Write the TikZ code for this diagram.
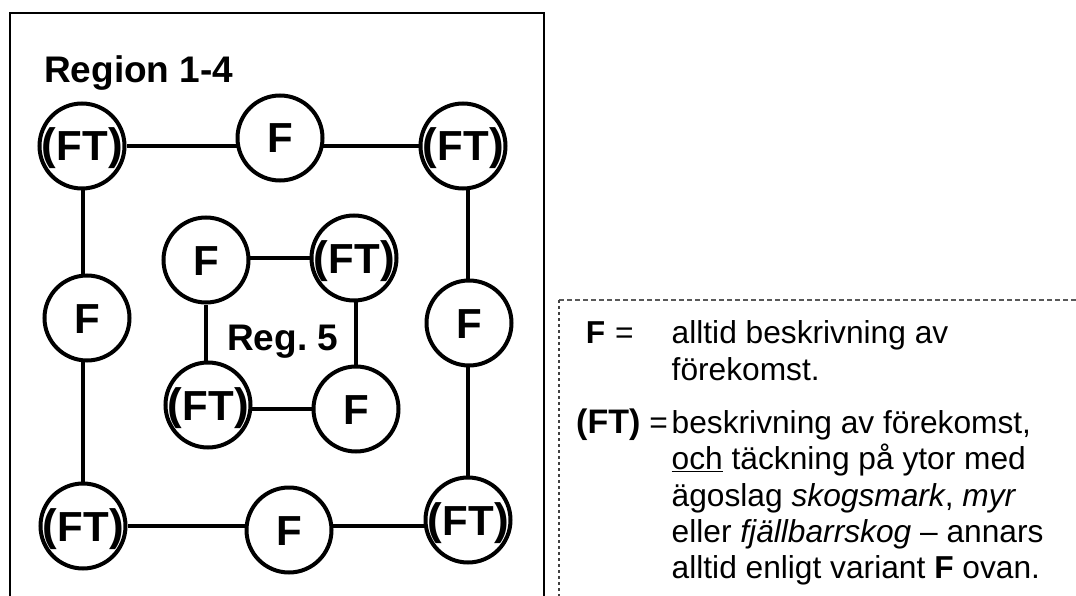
\documentclass[tikz,border=0pt]{standalone}
\usepackage{fontspec}
\setmainfont{Liberation Sans}
\usetikzlibrary{backgrounds}
\frenchspacing
\tikzset{
  circ/.style={circle, draw, line width=4pt, minimum size=85pt, inner sep=0pt,
    fill=white, font=\fontsize{42}{42}\selectfont\bfseries,
    text height=30pt, text depth=0pt},
  conn/.style={line width=4pt},
  frame/.style={line width=2pt},
  legdash/.style={line width=1.2pt, black!65, dash pattern=on 5pt off 3pt},
  legdot/.style={line width=1.5pt, black!75, dash pattern=on 3pt off 3pt},
  lg/.style={font=\fontsize{31.7}{36}\selectfont, inner sep=0pt, anchor=base west},
  title/.style={font=\fontsize{37}{37}\selectfont\bfseries, inner sep=0pt, anchor=base west}
}
\newcommand{\bigpar}[1]{\raisebox{1pt}{\fontsize{44}{44}\selectfont#1}}
\newcommand{\FTlab}{\makebox[60pt]{\bigpar{(}\kern0.5pt FT\kern0.5pt\bigpar{)}}}
\begin{document}
\begin{tikzpicture}[x=1pt,y=-1pt]
\useasboundingbox (0,0) rectangle (1076,596);
% outer frame
\draw[frame] (10,600) -- (10,13) -- (544,13) -- (544,600);
% legend frame
\coordinate (lgTL) at (559,300);
\coordinate (lgTR) at (1078,300);
\coordinate (lgBL) at (559,598);
\draw[legdash] (lgTL) -- (lgTR);
\draw[legdot] (lgTL) -- (lgBL);

\node[title] (reg) at (44,83) {Region 1-4};
\node[title] (reg5) at (227,350) {Reg. 5};

% outer ring
\node[circ] (tl) at (82,146) {\FTlab};
\node[circ] (tf) at (280,138) {F};
\node[circ] (tr) at (463,146) {\FTlab};
\node[circ] (lf) at (87,318) {F};
\node[circ] (rf) at (469,323) {F};
\node[circ] (bl) at (83,526) {\FTlab};
\node[circ] (bf) at (289,530) {F};
\node[circ] (br) at (468,520) {\FTlab};
% inner ring
\node[circ] (itl) at (206,260) {F};
\node[circ] (itr) at (354,258) {\FTlab};
\node[circ] (ibl) at (208,405) {\FTlab};
\node[circ] (ibr) at (356,409) {F};

\begin{pgfonlayer}{background}
\draw[conn] (tl) -- (tl -| tr);
\draw[conn] (bl) -- (bl |- tl);
\draw[conn] (br) -- (br |- tr);
\draw[conn] (bl) -- (bl -| br);
\draw[conn] (itr) -- (itr -| itl);
\draw[conn] (itl) -- (itl |- ibl);
\draw[conn] (ibr) -- (ibr |- itr);
\draw[conn] (ibr) -- (ibr -| ibl);
\end{pgfonlayer}

% legend text
\node[lg] (kF) at (585.6,343) {\textbf{F}\hspace{10pt}=};
\node[lg] (kFT) at (576,433) {{\fontsize{34}{36}\selectfont\bfseries (FT)}\hspace{9pt}=};
\node[lg] (t1) at (671.5,343) {alltid beskrivning av};
\node[lg] (t2) at (671.5,380) {förekomst.};
\node[lg] (t3) at (671.5,433) {beskrivning av förekomst,};
\node[lg] (t4) at (671.5,469.5) {\underline{och} täckning på ytor med};
\node[lg] (t5) at (671.5,506) {ägoslag \textit{skogsmark}, \textit{myr}};
\node[lg] (t6) at (671.5,542) {eller \textit{fjällbarrskog} – annars};
\node[lg] (t7) at (671.5,578) {alltid enligt variant \textbf{F} ovan.};
\end{tikzpicture}
\end{document}
